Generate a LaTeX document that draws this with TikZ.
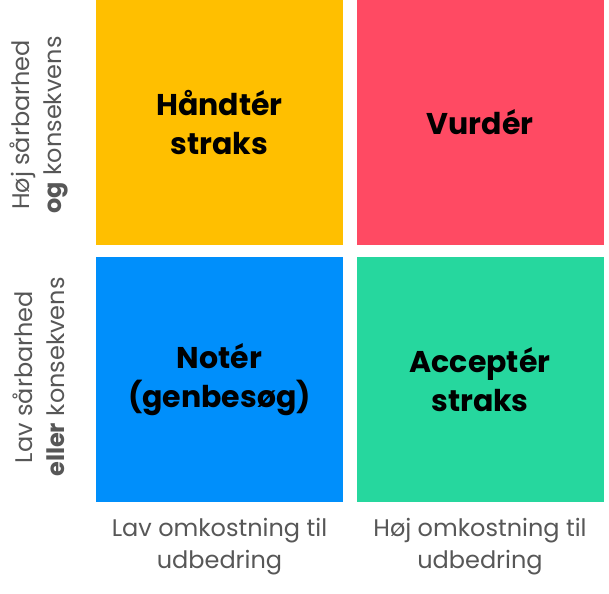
\documentclass[tikz,border=0pt]{standalone}
\usepackage{fontspec}
\setmainfont{Poppins}
\usepackage{tikz}
\usetikzlibrary{positioning}
\definecolor{feltgul}{HTML}{FFBF00}
\definecolor{feltrod}{HTML}{FF4A63}
\definecolor{feltblaa}{HTML}{008FFB}
\definecolor{feltgroen}{HTML}{26D79E}
\definecolor{tekstgraa}{HTML}{575757}
\begin{document}
\begin{tikzpicture}[x=1pt, y=1pt,
		felt/.style={fill=#1, minimum width=247pt, minimum height=245pt, inner sep=0pt, align=center,
			font=\fontsize{30}{39}\selectfont\bfseries, text=black},
		akse/.style={align=center, text=tekstgraa, font=\fontsize{24}{32}\selectfont, inner sep=0pt}]
		%Bildbereich
		\useasboundingbox (0,0) rectangle (609,593);
		%Felter
		\node[felt=feltgul]   (haandter) at (219.5,470.5) {Håndtér\\straks};
		\node[felt=feltrod]   (vurder)   at (480,470.5)   {Vurdér};
		\node[felt=feltblaa]  (noter)    at (219.5,213.5) {Notér\\(genbesøg)};
		\node[felt=feltgroen] (accepter) at (480,213.5)   {Acceptér\\straks};
		% Akser beskriften
		\node[akse, rotate=90] (hoej) at (39,468) {Høj sårbarhed\\\textbf{og} konsekvens};
		\node[akse, rotate=90] (lav)  at (39,216) {Lav sårbarhed\\\textbf{eller} konsekvens};
		\node[akse] (billig) at (219.5,46) {Lav omkostning til\\udbedring};
		\node[akse] (dyr)    at (480,46)   {Høj omkostning til\\udbedring};
	\end{tikzpicture}
\end{document}
